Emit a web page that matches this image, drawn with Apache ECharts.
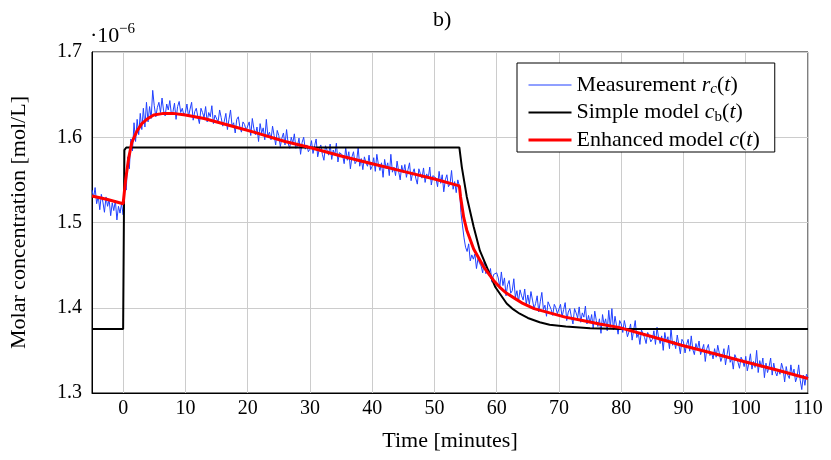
<!DOCTYPE html>
<html>
<head>
<meta charset="utf-8">
<script src="https://cdn.jsdelivr.net/npm/echarts@6/dist/echarts.min.js"></script>
<style>
html,body{margin:0;padding:0;background:#fff;}
#chart{width:831px;height:460px;}
</style>
</head>
<body>
<div id="chart"></div>
<script>
// ---- data (values in units of 1e-6 mol/L) ----
const measurementStart = -5;     // minutes
const measurementStep = 0.25;    // minutes
const measurement = [
1.538,1.529,1.541,1.522,1.531,1.515,1.533,1.524,1.512,1.530,1.519,1.527,1.508,1.523,1.514,1.526,1.503,1.519,1.511,1.522,
1.509,1.546,1.538,1.577,1.563,1.598,1.584,1.617,1.595,1.621,1.603,1.628,1.609,1.634,1.612,1.641,1.618,1.636,1.622,1.655,
1.637,1.624,1.635,1.641,1.629,1.646,1.631,1.625,1.639,1.632,1.643,1.627,1.630,1.640,1.621,1.636,1.642,1.629,1.634,1.626,
1.629,1.639,1.624,1.633,1.641,1.620,1.630,1.634,1.624,1.616,1.634,1.629,1.623,1.636,1.618,1.629,1.624,1.637,1.616,1.626,
1.628,1.618,1.632,1.623,1.613,1.619,1.628,1.609,1.621,1.632,1.613,1.617,1.605,1.621,1.624,1.612,1.606,1.618,1.615,1.608,
1.608,1.618,1.602,1.622,1.610,1.603,1.612,1.595,1.616,1.605,1.611,1.597,1.621,1.601,1.606,1.597,1.613,1.602,1.591,1.608,
1.602,1.589,1.599,1.605,1.591,1.609,1.593,1.587,1.600,1.593,1.604,1.587,1.590,1.599,1.580,1.594,1.600,1.586,1.591,1.583,
1.586,1.596,1.581,1.590,1.598,1.577,1.586,1.591,1.580,1.573,1.590,1.585,1.579,1.592,1.574,1.585,1.579,1.593,1.571,1.582,
1.583,1.579,1.569,1.588,1.573,1.583,1.563,1.577,1.583,1.569,1.572,1.588,1.566,1.575,1.562,1.577,1.570,1.566,1.579,1.562,
1.566,1.576,1.560,1.580,1.568,1.561,1.570,1.553,1.574,1.563,1.570,1.555,1.580,1.559,1.565,1.555,1.572,1.560,1.550,1.567,
1.558,1.568,1.553,1.562,1.570,1.549,1.558,1.563,1.552,1.545,1.563,1.557,1.552,1.564,1.547,1.557,1.552,1.565,1.544,1.555,
1.556,1.552,1.542,1.560,1.546,1.556,1.536,1.550,1.556,1.542,1.545,1.561,1.539,1.548,1.535,1.550,1.543,1.512,1.497,1.482,
1.471,1.466,1.475,1.455,1.462,1.457,1.463,1.446,1.458,1.452,1.449,1.441,1.455,1.440,1.444,1.438,1.446,1.430,1.439,1.437,
1.441,1.435,1.424,1.442,1.426,1.435,1.414,1.427,1.432,1.417,1.420,1.434,1.412,1.420,1.407,1.421,1.414,1.409,1.422,1.404,
1.415,1.404,1.419,1.409,1.399,1.405,1.414,1.395,1.407,1.418,1.398,1.403,1.390,1.407,1.409,1.398,1.391,1.404,1.400,1.393,
1.394,1.404,1.389,1.398,1.406,1.385,1.395,1.399,1.389,1.381,1.399,1.394,1.388,1.401,1.383,1.394,1.389,1.402,1.381,1.391,
1.382,1.392,1.376,1.396,1.385,1.378,1.387,1.370,1.392,1.380,1.387,1.373,1.397,1.377,1.399,1.374,1.390,1.379,1.369,1.385,
1.381,1.371,1.385,1.376,1.366,1.372,1.381,1.362,1.374,1.385,1.365,1.370,1.357,1.374,1.376,1.365,1.358,1.371,1.367,1.360,
1.363,1.373,1.357,1.377,1.365,1.358,1.367,1.350,1.371,1.360,1.366,1.352,1.376,1.356,1.361,1.352,1.368,1.357,1.346,1.363,
1.360,1.347,1.357,1.363,1.349,1.367,1.351,1.345,1.358,1.351,1.361,1.345,1.347,1.357,1.337,1.352,1.357,1.344,1.348,1.340,
1.352,1.342,1.356,1.347,1.337,1.343,1.352,1.333,1.345,1.356,1.336,1.341,1.328,1.345,1.347,1.336,1.329,1.342,1.338,1.331,
1.343,1.326,1.335,1.346,1.328,1.337,1.330,1.350,1.324,1.338,1.330,1.341,1.318,1.335,1.324,1.331,1.341,1.321,1.335,1.325,
1.320,1.328,1.322,1.335,1.328,1.313,1.331,1.321,1.317,1.333,1.321,1.328,1.313,1.319,1.333,1.315,1.304,1.321,1.309,1.322,1.318
];

const simpleTime = [-5, 0, 0.2, 0.5, 54, 54.4, 55.2, 56.3, 57.3, 58.4, 59.8, 61.6, 62.5, 63.7, 65, 66.9, 68.5, 71.1, 75, 80, 110];
const simpleValue = [1.375, 1.375, 1.585, 1.588, 1.588, 1.565, 1.530, 1.495, 1.467, 1.448, 1.424, 1.405, 1.399, 1.393, 1.388, 1.383, 1.380, 1.378, 1.376, 1.375, 1.375];

const enhancedTime = [-5, -2.5, 0, 0.4, 0.9, 1.4, 2.2, 3.0, 3.8, 4.9, 6.5, 8, 10, 13, 15.5, 18, 21, 26, 30, 35, 40, 45, 50, 54,
  54.2, 54.7, 55.2, 56.3, 57.9, 58.7, 59.5, 60.5, 61.6, 62.9, 64.2, 66, 68.5, 71, 73.8, 76.5, 79.6, 85, 89.7, 95, 99.7, 105, 110];
const enhancedValue = [1.531, 1.527, 1.522, 1.550, 1.576, 1.594, 1.607, 1.616, 1.621, 1.626, 1.628, 1.628, 1.626, 1.622, 1.617, 1.612, 1.606, 1.595, 1.588, 1.578, 1.569, 1.560, 1.551, 1.543,
  1.530, 1.506, 1.491, 1.469, 1.448, 1.440, 1.432, 1.424, 1.417, 1.411, 1.405, 1.399, 1.394, 1.389, 1.385, 1.381, 1.377, 1.366, 1.356, 1.346, 1.337, 1.327, 1.317];

const seriesNames = ['Measurement', 'Simple model', 'Enhanced model'];
const seriesColors = ['#2040ff', '#000000', '#ff0000'];
const seriesWidths = [1, 2, 3];
const yMin = 1.3, yMax = 1.7, yStep = 0.1;
const xMin = -5, xMax = 110;

// ---- build ----
const FONT = '"Liberation Serif", "DejaVu Serif", serif';
const measData = measurement.map((v, i) => [measurementStart + i * measurementStep, v]);
const simpleData = simpleTime.map((t, i) => [t, simpleValue[i]]);
const enhancedData = enhancedTime.map((t, i) => [t, enhancedValue[i]]);

const legendLabels = {
  'Measurement': 'Measurement {i|r}{subi|c}({i|t})',
  'Simple model': 'Simple model {i|c}{sub|b}({i|t})',
  'Enhanced model': 'Enhanced model {i|c}({i|t})'
};

const chart = echarts.init(document.getElementById('chart'), null, {renderer: 'canvas'});
chart.setOption({
  animation: false,
  backgroundColor: '#fff',
  grid: {left: 82, right: 23, top: 52, bottom: 67, show: true, borderColor: '#000', borderWidth: 1, backgroundColor: 'transparent'},
  xAxis: {
    type: 'value', min: xMin, max: xMax, splitNumber: 11,
    name: 'Time [minutes]', nameLocation: 'middle', nameGap: 37,
    nameTextStyle: {fontFamily: FONT, fontSize: 22, color: '#000'},
    axisLine: {show: true, onZero: false, lineStyle: {color: '#000', width: 1}},
    axisTick: {show: false},
    axisLabel: {fontFamily: FONT, fontSize: 20, color: '#000', margin: 6, showMinLabel: false,
      formatter: v => (v < 0 ? '' : String(v))},
    splitLine: {show: true, lineStyle: {color: '#cccccc', width: 1}}
  },
  yAxis: {
    type: 'value', min: yMin, max: yMax, interval: yStep,
    name: 'Molar concentration [mol/L]', nameLocation: 'middle', nameGap: 62,
    nameTextStyle: {fontFamily: FONT, fontSize: 22, color: '#000'},
    axisLine: {show: true, onZero: false, lineStyle: {color: '#000', width: 1}},
    axisTick: {show: false},
    axisLabel: {fontFamily: FONT, fontSize: 20, color: '#000', margin: 10, formatter: v => v.toFixed(1)},
    splitLine: {show: true, lineStyle: {color: '#cccccc', width: 1}}
  },
  legend: {
    data: seriesNames.map((n, i) => ({name: n, lineStyle: {color: seriesColors[i], width: seriesWidths[i]}})),
    orient: 'vertical', left: 517, top: 63,
    itemWidth: 43, itemHeight: 14, itemGap: 3.5,
    padding: [10, 15, 0, 10],
    backgroundColor: '#fff', borderColor: '#000', borderWidth: 1,
    itemStyle: {opacity: 0},
    formatter: n => legendLabels[n],
    textStyle: {
      fontFamily: FONT, fontSize: 22, color: '#000', lineHeight: 24,
      rich: {
        i: {fontFamily: FONT, fontSize: 22, fontStyle: 'italic', color: '#000', lineHeight: 24},
        sub: {fontFamily: FONT, fontSize: 15, color: '#000', padding: [9, 0, 0, 0]},
        subi: {fontFamily: FONT, fontSize: 15, fontStyle: 'italic', color: '#000', padding: [9, 0, 0, 0]}
      }
    }
  },
  graphic: [
    {type: 'text', left: 433, top: 9, style: {text: 'b)', font: '22px ' + FONT, fill: '#000'}},
    {type: 'text', x: 90, y: 36, style: {text: '·10', font: '22px ' + FONT, fill: '#000', verticalAlign: 'middle'}},
    {type: 'text', x: 119, y: 29, style: {text: '−6', font: '15px ' + FONT, fill: '#000', verticalAlign: 'middle'}}
  ],
  series: [
    {name: seriesNames[0], type: 'line', data: measData, symbol: 'none', showSymbol: false,
      lineStyle: {color: seriesColors[0], width: seriesWidths[0]}, itemStyle: {color: seriesColors[0]}, z: 2},
    {name: seriesNames[1], type: 'line', data: simpleData, symbol: 'none', showSymbol: false,
      lineStyle: {color: seriesColors[1], width: seriesWidths[1]}, itemStyle: {color: seriesColors[1]}, z: 3},
    {name: seriesNames[2], type: 'line', data: enhancedData, symbol: 'none', showSymbol: false,
      lineStyle: {color: seriesColors[2], width: seriesWidths[2]}, itemStyle: {color: seriesColors[2]}, z: 4}
  ]
});
</script>
</body>
</html>
